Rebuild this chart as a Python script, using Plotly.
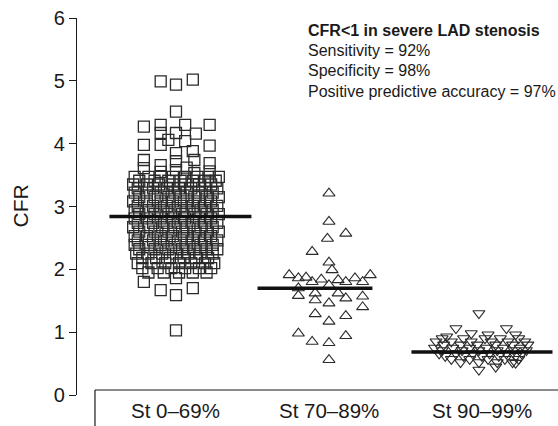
import plotly.graph_objects as go

# ---------------- data ----------------
categories = ["St 0\u201369%", "St 70\u201389%", "St 90\u201399%"]
means = [2.84, 1.70, 0.685]

# Group 1 (squares): CFR values and horizontal jitter (category units)
sq_vals = [
    4.99, 4.94, 5.02, 4.51,
    4.27, 4.30, 4.30, 4.30, 4.17, 4.17, 4.16, 4.06, 4.04,
    3.98, 3.98, 3.97, 3.85, 3.88,
    3.74, 3.66, 3.72, 3.74, 3.69, 3.61, 3.58, 3.53, 3.56, 3.55, 3.62,
    3.47, 3.47, 3.47, 3.47, 3.47, 3.47, 3.47, 3.47,
    3.41, 3.41, 3.41, 3.41, 3.41, 3.41, 3.41,
    3.35, 3.35, 3.35, 3.35, 3.35, 3.35, 3.35,
    3.29, 3.29, 3.29, 3.29, 3.29, 3.29, 3.29,
    3.22, 3.22, 3.22, 3.22, 3.22, 3.22, 3.22,
    3.15, 3.15, 3.15, 3.15, 3.15, 3.15, 3.15,
    3.08, 3.08, 3.08, 3.08, 3.08, 3.08, 3.08,
    3.01, 3.01, 3.01, 3.01, 3.01, 3.01, 3.01,
    2.94, 2.94, 2.94, 2.94, 2.94, 2.94, 2.94,
    2.88, 2.88, 2.88, 2.88, 2.88, 2.88, 2.88,
    2.81, 2.81, 2.81, 2.81, 2.81, 2.81, 2.81,
    2.74, 2.74, 2.74, 2.74, 2.74, 2.74, 2.74,
    2.67, 2.67, 2.67, 2.67, 2.67, 2.67, 2.67,
    2.60, 2.60, 2.60, 2.60, 2.60, 2.60, 2.60,
    2.53, 2.53, 2.53, 2.53, 2.53, 2.53, 2.53,
    2.46, 2.46, 2.46, 2.46, 2.46, 2.46, 2.46,
    2.39, 2.39, 2.39, 2.39, 2.39, 2.39, 2.39,
    2.32, 2.32, 2.32, 2.32, 2.32, 2.32, 2.32,
    2.25, 2.25, 2.25, 2.25, 2.25, 2.25, 2.25,
    2.18, 2.18, 2.18, 2.18, 2.18, 2.18,
    2.10, 2.10, 2.10, 2.10, 2.10, 2.10, 2.10,
    2.02, 2.02, 2.02, 2.02, 2.02, 2.02,
    1.95, 1.95, 1.95, 1.95, 1.95,
    1.80, 1.67, 1.59, 1.70, 1.86, 1.03,
]
sq_jit = [
    -0.10, 0.00, 0.11, 0.00,
    -0.21, -0.10, 0.06, 0.22, -0.10, 0.00, 0.13, -0.05, 0.06,
    -0.21, -0.10, 0.22, 0.00, 0.11,
    -0.21, -0.10, 0.00, 0.12, 0.22, -0.21, 0.00, 0.12, 0.22, -0.10, 0.07,
    -0.27, -0.18, -0.10, -0.02, 0.06, 0.14, 0.22, 0.28,
    -0.24, -0.14, -0.05, 0.03, 0.11, 0.19, 0.26,
    -0.28, -0.19, -0.11, -0.02, 0.06, 0.15, 0.23,
    -0.25, -0.15, -0.06, 0.02, 0.10, 0.19, 0.27,
    -0.27, -0.19, -0.10, -0.01, 0.07, 0.15, 0.24,
    -0.24, -0.14, -0.05, 0.03, 0.12, 0.20, 0.28,
    -0.28, -0.19, -0.10, -0.02, 0.07, 0.15, 0.23,
    -0.25, -0.15, -0.06, 0.03, 0.11, 0.19, 0.27,
    -0.27, -0.18, -0.10, -0.01, 0.07, 0.16, 0.24,
    -0.24, -0.14, -0.05, 0.04, 0.12, 0.20, 0.28,
    -0.27, -0.19, -0.10, -0.02, 0.06, 0.15, 0.23,
    -0.25, -0.15, -0.06, 0.03, 0.11, 0.19, 0.27,
    -0.28, -0.18, -0.09, -0.01, 0.07, 0.16, 0.24,
    -0.24, -0.14, -0.05, 0.04, 0.12, 0.20, 0.28,
    -0.27, -0.19, -0.10, -0.02, 0.07, 0.15, 0.23,
    -0.25, -0.15, -0.06, 0.03, 0.11, 0.19, 0.27,
    -0.27, -0.18, -0.10, -0.01, 0.07, 0.16, 0.24,
    -0.24, -0.14, -0.05, 0.04, 0.12, 0.20, 0.27,
    -0.26, -0.18, -0.09, 0.00, 0.08, 0.16, 0.24,
    -0.22, -0.13, -0.04, 0.05, 0.13, 0.21,
    -0.25, -0.16, -0.07, 0.02, 0.10, 0.19, 0.25,
    -0.22, -0.12, -0.03, 0.06, 0.15, 0.23,
    -0.18, -0.08, 0.02, 0.11, 0.20,
    -0.21, -0.10, 0.00, 0.11, 0.00, 0.00,
]

# Group 2 (triangles up)
tu_vals = [3.21, 2.76, 2.57, 2.49, 2.28, 2.11, 1.99, 1.91, 1.86, 1.87, 1.80, 1.84,
           1.75, 1.83, 1.80, 1.86, 1.80, 1.91, 1.70, 1.58, 1.62, 1.51, 1.62, 1.46,
           1.54, 1.57, 1.40, 1.29, 1.17, 1.26, 0.98, 0.85, 0.83, 0.94, 0.56]
tu_jit = [0.00, 0.00, 0.11, -0.01, -0.11, 0.00, 0.02, -0.26, -0.20, -0.15, -0.11, -0.05,
          0.00, 0.06, 0.11, 0.17, 0.22, 0.27, -0.20, -0.20, -0.09, -0.09, 0.06, 0.00,
          0.11, 0.22, 0.22, -0.09, 0.00, 0.11, -0.20, -0.11, 0.00, 0.11, 0.00]

# Group 3 (triangles down)
td_vals = [1.30, 1.06, 0.98, 0.96, 1.06, 0.96, 0.93,
           0.90, 0.90, 0.90, 0.90, 0.90,
           0.85, 0.85, 0.85, 0.85, 0.85, 0.85,
           0.80, 0.80, 0.80, 0.80, 0.80, 0.80,
           0.75, 0.75, 0.75, 0.75, 0.75, 0.75,
           0.71, 0.71, 0.71, 0.71, 0.71, 0.71,
           0.66, 0.66, 0.66, 0.66, 0.66, 0.66,
           0.62, 0.62, 0.62, 0.62, 0.62,
           0.57, 0.57, 0.57, 0.57, 0.57,
           0.52, 0.52, 0.52, 0.52,
           0.40, 0.45, 0.51]
td_jit = [-0.02, -0.17, -0.07, 0.04, 0.16, 0.22, -0.23,
          -0.26, -0.12, 0.02, 0.12, 0.24,
          -0.30, -0.20, -0.07, 0.06, 0.17, 0.28,
          -0.25, -0.14, -0.03, 0.09, 0.20, 0.30,
          -0.31, -0.19, -0.08, 0.03, 0.14, 0.25,
          -0.26, -0.13, -0.02, 0.10, 0.21, 0.29,
          -0.28, -0.17, -0.06, 0.05, 0.16, 0.26,
          -0.24, -0.12, 0.00, 0.11, 0.22,
          -0.20, -0.08, 0.04, 0.15, 0.24,
          -0.14, -0.02, 0.10, 0.20,
          -0.02, 0.09, 0.22]

# mean-line horizontal extents (category units, relative to x axis)
mean_spans = [(-0.435, 0.493), (0.533, 1.284), (1.539, 2.461)]

FONT = "Liberation Sans, Arial, Helvetica, sans-serif"
INK = "#1a1a1a"

fig = go.Figure()

fig.add_trace(go.Scatter(
    x=[0 + j for j in sq_jit], y=sq_vals, mode="markers",
    marker=dict(symbol="square-open", size=11, color="#2a2a2a", line=dict(width=1.3)),
    showlegend=False, hoverinfo="y"))
fig.add_trace(go.Scatter(
    x=[1 + j for j in tu_jit], y=tu_vals, mode="markers",
    marker=dict(symbol="triangle-up-open", size=10.5, color="#2a2a2a", line=dict(width=1.1)),
    showlegend=False, hoverinfo="y"))
fig.add_trace(go.Scatter(
    x=[2 + j for j in td_jit], y=td_vals, mode="markers",
    marker=dict(symbol="triangle-down-open", size=10.5, color="#2a2a2a", line=dict(width=1.1)),
    showlegend=False, hoverinfo="y"))

for (x0, x1), m in zip(mean_spans, means):
    fig.add_trace(go.Scatter(x=[x0, x1], y=[m, m], mode="lines",
                             line=dict(color="#111111", width=3.5),
                             showlegend=False, hoverinfo="skip"))

annotations = []
for i, c in enumerate(categories):
    annotations.append(dict(x=i, y=-0.04, xref="x", yref="paper", text=c,
                            showarrow=False, xanchor="center", yanchor="middle",
                            font=dict(family=FONT, size=20.5, color=INK)))
annotations.append(dict(x=-0.1185, y=3, xref="paper", yref="y", text="CFR",
                        textangle=-90, showarrow=False, xanchor="center", yanchor="middle",
                        font=dict(family=FONT, size=21, color=INK)))
info_lines = ["<b>CFR<1 in severe LAD stenosis</b>", "Sensitivity = 92%",
              "Specificity = 98%", "Positive predictive accuracy = 97%"]
for k, t in enumerate(info_lines):
    annotations.append(dict(x=0.476, y=[5.80, 5.48, 5.16, 4.83][k], xref="paper", yref="y",
                            text=t, showarrow=False, xanchor="left", yanchor="middle",
                            font=dict(family=FONT, size=16, color=INK)))

fig.update_layout(
    width=558, height=426,
    margin=dict(l=77, r=0, t=18, b=31, pad=0),
    paper_bgcolor="white", plot_bgcolor="white",
    xaxis=dict(visible=False, range=[-0.647, 2.497], fixedrange=True),
    yaxis=dict(range=[0, 6], tickvals=[0, 1, 2, 3, 4, 5, 6], showgrid=False, zeroline=False,
               showline=True, linecolor=INK, linewidth=1.2, ticks="outside", ticklen=7,
               tickwidth=1.2, tickcolor=INK, tickfont=dict(family=FONT, size=20, color=INK),
               fixedrange=True),
    annotations=annotations,
    shapes=[
        dict(type="line", xref="paper", yref="paper", x0=0.0374, x1=1.0, y0=0.0133, y1=0.0133,
             line=dict(color=INK, width=1.2)),
        dict(type="line", xref="paper", yref="paper", x0=0.0374, x1=0.0374, y0=0.0133, y1=-0.2,
             line=dict(color=INK, width=1.2)),
    ],
)

fig.write_html("out.html")
